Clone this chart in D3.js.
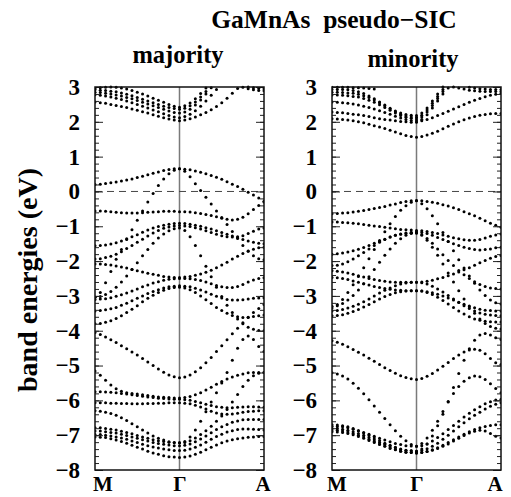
<!DOCTYPE html>
<html>
<head>
<meta charset="utf-8">
<script src="https://cdn.jsdelivr.net/npm/d3@7"></script>
<style>
  body { margin: 0; background: #fff; }
  text { font-family: "Liberation Serif", "Times New Roman", serif; font-weight: bold; fill: #000; }
</style>
</head>
<body>
<svg id="chart" width="511" height="497"></svg>
<script>
// k path M -> Gamma -> A, 33 points (Gamma at index 16)
var kLabels = ["M", "Γ", "A"];
var kLabelPos = [0, 0.5, 1];
var nK = 33;
var yTicks = [-8, -7, -6, -5, -4, -3, -2, -1, 0, 1, 2, 3];

// band energies (eV), null = off the plotted range
var majorityBands = [
  [2.57,2.55,2.53,2.5,2.47,2.44,2.41,2.37,2.33,2.29,2.25,2.2,2.16,2.12,2.08,2.05,2.03, 2.05,2.09,2.14,2.2,2.27,2.35,2.44,2.55,2.68,2.82,2.96,null,null,null,null,null],
  [2.78,2.76,2.74,2.71,2.68,2.64,2.6,2.55,2.5,2.45,2.4,2.34,2.29,2.23,2.18,2.14,2.12, 2.15,2.22,2.32,2.45,2.6,2.76,2.93,null,null,null,null,null,null,null,null,null],
  [2.85,2.84,2.82,2.8,2.77,2.74,2.7,2.66,2.61,2.56,2.51,2.46,2.41,2.36,2.31,2.27,2.25, 2.28,2.36,2.48,2.63,2.8,2.98,null,null,null,null,null,null,null,null,null,null],
  [2.92,2.91,2.9,2.88,2.86,2.83,2.79,2.75,2.7,2.65,2.6,2.55,2.5,2.45,2.41,2.38,2.36, 2.39,2.46,2.57,2.71,2.87,null,null,null,null,null,null,null,null,null,null,null],
  [2.96,2.98,2.99,3.0,2.99,2.97,2.94,2.9,2.85,2.8,2.74,2.68,2.62,2.56,2.5,2.45,2.42, 2.46,2.54,2.66,2.81,2.97,null,null,null,null,null,null,null,null,null,null,null],
  [null,null,null,null,null,null,null,null,null,null,null,null,null,null,null,null,null, null,null,null,null,null,null,null,null,null,null,null,2.99,2.95,2.92,2.9,2.89],
  [null,null,null,null,null,null,null,null,null,null,null,null,null,null,null,null,null, null,null,null,null,null,null,null,null,null,null,null,null,3.0,2.98,2.96,2.95],
  [0.2,0.21,0.23,0.25,0.27,0.3,0.33,0.36,0.4,0.44,0.48,0.52,0.56,0.6,0.63,0.65,0.65, 0.64,0.62,0.59,0.55,0.51,0.46,0.41,0.35,0.28,0.21,0.14,0.06,-0.02,-0.1,-0.19,-0.28],
  [-0.56,-0.56,-0.57,-0.58,-0.6,-0.61,-0.62,-0.62,-0.62,-0.61,-0.6,-0.59,-0.58,-0.57,-0.57,-0.57,-0.58, -0.58,-0.59,-0.61,-0.63,-0.66,-0.69,-0.73,-0.77,-0.8,-0.82,-0.8,-0.74,-0.64,-0.52,-0.4,-0.3],
  [-3.04,-2.9,-2.62,-2.3,-1.95,-1.67,-1.38,-1.1,-0.83,-0.56,-0.3,-0.06,0.17,0.36,0.51,0.61,0.65, 0.58,0.42,0.22,0.03,-0.17,-0.36,-0.56,-0.75,-0.95,-1.15,-1.35,-1.55,-1.72,-1.85,-1.93,-1.96],
  [-1.56,-1.55,-1.54,-1.51,-1.47,-1.42,-1.36,-1.3,-1.24,-1.17,-1.11,-1.05,-1.01,-0.97,-0.94,-0.92,-0.91, -0.92,-0.94,-0.97,-1.0,-1.04,-1.08,-1.13,-1.18,-1.23,-1.28,-1.33,-1.38,-1.42,-1.46,-1.49,-1.5],
  [-1.94,-1.93,-1.9,-1.86,-1.8,-1.73,-1.64,-1.55,-1.46,-1.37,-1.28,-1.19,-1.12,-1.06,-1.02,-0.99,-0.98, -0.99,-1.01,-1.04,-1.08,-1.13,-1.18,-1.23,-1.27,-1.3,-1.31,-1.3,-1.27,-1.21,-1.14,-1.08,-1.05],
  [-3.04,-3.02,-2.96,-2.87,-2.75,-2.6,-2.43,-2.24,-2.05,-1.85,-1.67,-1.49,-1.34,-1.22,-1.13,-1.07,-1.05, -1.12,-1.3,-1.55,-1.85,-2.15,-2.45,-2.75,-3.02,-3.27,-3.48,-3.66,-3.8,-3.9,-3.96,-3.99,-4.0],
  [-2.08,-2.08,-2.1,-2.11,-2.14,-2.17,-2.2,-2.24,-2.28,-2.31,-2.35,-2.38,-2.41,-2.44,-2.46,-2.47,-2.47, -2.46,-2.44,-2.41,-2.37,-2.32,-2.26,-2.19,-2.11,-2.03,-1.94,-1.86,-1.78,-1.71,-1.66,-1.62,-1.6],
  [-3.1,-3.09,-3.08,-3.05,-3.01,-2.97,-2.92,-2.86,-2.8,-2.74,-2.69,-2.63,-2.59,-2.55,-2.52,-2.51,-2.5, -2.5,-2.51,-2.53,-2.56,-2.6,-2.65,-2.7,-2.74,-2.76,-2.76,-2.73,-2.67,-2.6,-2.54,-2.5,-2.48],
  [-3.43,-3.42,-3.4,-3.37,-3.33,-3.27,-3.21,-3.14,-3.07,-3.0,-2.93,-2.87,-2.82,-2.77,-2.74,-2.72,-2.71, -2.72,-2.74,-2.78,-2.83,-2.89,-2.95,-3.01,-3.06,-3.1,-3.12,-3.12,-3.11,-3.09,-3.07,-3.06,-3.05],
  [-3.8,-3.79,-3.76,-3.71,-3.65,-3.57,-3.48,-3.38,-3.28,-3.17,-3.07,-2.98,-2.9,-2.84,-2.79,-2.76,-2.75, -2.77,-2.82,-2.9,-3.0,-3.11,-3.22,-3.33,-3.42,-3.5,-3.56,-3.6,-3.62,-3.61,-3.59,-3.57,-3.55],
  [-4.05,-4.11,-4.18,-4.26,-4.34,-4.43,-4.52,-4.61,-4.7,-4.8,-4.9,-5.0,-5.1,-5.19,-5.27,-5.32,-5.35, -5.33,-5.27,-5.18,-5.06,-4.92,-4.77,-4.6,-4.43,-4.26,-4.09,-3.93,-3.77,-3.62,-3.48,-3.36,-3.25],
  [-5.16,-5.28,-5.42,-5.56,-5.67,-5.74,-5.78,-5.8,-5.82,-5.84,-5.86,-5.88,-5.9,-5.91,-5.92,-5.93,-5.93, -5.92,-5.89,-5.84,-5.78,-5.7,-5.62,-5.54,-5.46,-5.39,-5.33,-5.28,-5.24,-5.21,-5.2,-5.2,-5.2],
  [-5.75,-5.75,-5.76,-5.77,-5.78,-5.8,-5.82,-5.84,-5.86,-5.88,-5.9,-5.92,-5.94,-5.95,-5.96,-5.97,-5.97, -5.98,-6.0,-6.03,-6.07,-6.11,-6.15,-6.18,-6.2,-6.21,-6.21,-6.2,-6.19,-6.18,-6.18,-6.19,-6.2],
  [-6.07,-6.07,-6.07,-6.08,-6.08,-6.09,-6.09,-6.1,-6.1,-6.1,-6.09,-6.09,-6.08,-6.08,-6.07,-6.07,-6.07, -6.08,-6.1,-6.14,-6.19,-6.25,-6.31,-6.36,-6.39,-6.4,-6.39,-6.37,-6.34,-6.32,-6.31,-6.3,-6.3],
  [-6.3,-6.31,-6.34,-6.38,-6.43,-6.5,-6.58,-6.67,-6.76,-6.85,-6.94,-7.02,-7.09,-7.14,-7.19,-7.21,-7.22, -7.18,-7.05,-6.85,-6.6,-6.33,-6.05,-5.78,-5.5,-5.2,-4.85,-4.5,-4.25,-4.15,-4.25,-4.45,-4.6],
  [-6.79,-6.79,-6.81,-6.83,-6.85,-6.89,-6.92,-6.96,-7.01,-7.05,-7.09,-7.13,-7.16,-7.18,-7.2,-7.22,-7.22, -7.21,-7.16,-7.08,-6.98,-6.87,-6.74,-6.6,-6.45,-6.26,-6.05,-5.83,-5.6,-5.42,-5.29,-5.22,-5.2],
  [-6.88,-6.88,-6.9,-6.92,-6.94,-6.97,-7.01,-7.05,-7.09,-7.13,-7.17,-7.21,-7.24,-7.26,-7.28,-7.3,-7.3, -7.29,-7.25,-7.19,-7.11,-7.02,-6.93,-6.84,-6.76,-6.69,-6.63,-6.59,-6.56,-6.55,-6.55,-6.55,-6.55],
  [-6.98,-6.98,-7.0,-7.02,-7.05,-7.08,-7.12,-7.17,-7.21,-7.26,-7.3,-7.34,-7.37,-7.4,-7.42,-7.44,-7.44, -7.43,-7.4,-7.35,-7.28,-7.2,-7.12,-7.04,-6.97,-6.91,-6.87,-6.84,-6.82,-6.82,-6.83,-6.84,-6.85],
  [-7.05,-7.06,-7.07,-7.1,-7.14,-7.18,-7.23,-7.29,-7.35,-7.4,-7.46,-7.51,-7.55,-7.59,-7.62,-7.63,-7.64, -7.63,-7.6,-7.55,-7.49,-7.42,-7.35,-7.28,-7.22,-7.17,-7.13,-7.1,-7.08,-7.06,-7.05,-7.04,-7.04]
];

var minorityBands = [
  [2.09,2.08,2.07,2.05,2.03,2.0,1.97,1.93,1.89,1.85,1.81,1.76,1.71,1.66,1.61,1.58,1.56, 1.58,1.62,1.67,1.73,1.8,1.87,1.94,2.0,2.06,2.11,2.15,2.19,2.21,2.23,2.24,2.24],
  [2.28,2.27,2.26,2.24,2.22,2.2,2.18,2.15,2.12,2.09,2.07,2.05,2.03,2.01,2.0,1.99,1.99, 2.03,2.07,2.12,2.18,2.24,2.3,2.37,2.43,2.5,2.56,2.62,2.67,2.72,2.76,2.79,2.81],
  [2.57,2.56,2.55,2.53,2.51,2.48,2.45,2.41,2.37,2.32,2.27,2.22,2.16,2.11,2.07,2.04,2.03, 2.07,2.2,2.4,2.6,2.8,2.97,null,null,null,null,null,null,null,null,null,null],
  [2.77,2.77,2.76,2.75,2.73,2.71,2.67,2.62,2.56,2.49,2.41,2.33,2.25,2.18,2.13,2.1,2.08, 2.14,2.28,2.47,2.67,2.87,null,null,null,null,null,null,null,null,null,null,null],
  [2.85,2.85,2.84,2.83,2.82,2.79,2.75,2.7,2.63,2.55,2.46,2.37,2.29,2.22,2.17,2.14,2.13, 2.19,2.34,2.53,2.73,2.93,null,null,null,null,null,null,null,null,null,null,null],
  [2.93,2.93,2.93,2.92,2.9,2.86,2.81,2.74,2.66,2.57,2.48,2.39,2.31,2.25,2.21,2.19,2.18, 2.25,2.4,2.6,2.8,3.0,null,null,null,null,null,null,null,null,null,null,null],
  [2.99,2.99,2.99,2.99,2.98,2.98,2.97,2.96,2.94,null,null,null,null,null,null,null,null, null,null,null,null,null,null,null,null,null,null,null,null,null,null,null,null],
  [null,null,null,null,null,null,null,null,null,null,null,null,null,null,null,null,null, null,null,null,null,null,null,null,null,null,2.99,2.97,2.95,2.94,2.93,2.93,2.93],
  [null,null,null,null,null,null,null,null,null,null,null,null,null,null,null,null,null, null,null,null,null,null,null,3.0,2.97,2.94,2.91,2.89,2.88,2.87,2.87,2.87,2.87],
  [-0.64,-0.63,-0.62,-0.61,-0.59,-0.57,-0.55,-0.52,-0.49,-0.46,-0.43,-0.39,-0.36,-0.32,-0.29,-0.27,-0.26, -0.27,-0.29,-0.31,-0.34,-0.38,-0.42,-0.47,-0.52,-0.58,-0.64,-0.7,-0.77,-0.84,-0.91,-0.97,-1.03],
  [-3.35,-3.25,-3.1,-2.9,-2.68,-2.44,-2.19,-1.93,-1.67,-1.41,-1.16,-0.93,-0.72,-0.54,-0.41,-0.31,-0.27, -0.35,-0.5,-0.7,-0.93,-1.18,-1.44,-1.7,-1.96,-2.2,-2.43,-2.64,-2.83,-2.99,-3.12,-3.2,-3.23],
  [-0.88,-0.88,-0.89,-0.9,-0.91,-0.93,-0.95,-0.97,-0.99,-1.01,-1.03,-1.05,-1.07,-1.09,-1.1,-1.11,-1.12, -1.13,-1.15,-1.18,-1.21,-1.25,-1.29,-1.33,-1.36,-1.39,-1.4,-1.4,-1.38,-1.34,-1.29,-1.25,-1.22],
  [-1.8,-1.79,-1.77,-1.74,-1.7,-1.66,-1.61,-1.55,-1.49,-1.43,-1.37,-1.31,-1.26,-1.22,-1.19,-1.17,-1.16, -1.18,-1.21,-1.26,-1.32,-1.38,-1.44,-1.5,-1.55,-1.6,-1.64,-1.67,-1.68,-1.67,-1.65,-1.62,-1.6],
  [-2.13,-2.12,-2.08,-2.02,-1.94,-1.85,-1.75,-1.65,-1.55,-1.46,-1.38,-1.31,-1.26,-1.23,-1.21,-1.2,-1.2, -1.25,-1.35,-1.49,-1.65,-1.82,-1.98,-2.13,-2.27,-2.39,-2.5,-2.59,-2.67,-2.73,-2.77,-2.79,-2.8],
  [-2.28,-2.29,-2.31,-2.34,-2.38,-2.42,-2.46,-2.5,-2.53,-2.56,-2.58,-2.6,-2.61,-2.61,-2.61,-2.61,-2.61, -2.6,-2.58,-2.55,-2.51,-2.47,-2.42,-2.37,-2.31,-2.25,-2.19,-2.12,-2.05,-1.98,-1.92,-1.87,-1.84],
  [-2.47,-2.48,-2.5,-2.53,-2.57,-2.61,-2.65,-2.69,-2.73,-2.76,-2.79,-2.81,-2.83,-2.84,-2.85,-2.85,-2.85, -2.86,-2.88,-2.91,-2.95,-3.0,-3.06,-3.12,-3.18,-3.24,-3.29,-3.34,-3.38,-3.41,-3.42,-3.43,-3.43],
  [-3.43,-3.42,-3.39,-3.35,-3.3,-3.24,-3.17,-3.09,-3.0,-2.92,-2.84,-2.77,-2.71,-2.66,-2.63,-2.61,-2.61, -2.62,-2.66,-2.72,-2.8,-2.89,-2.99,-3.09,-3.19,-3.28,-3.36,-3.43,-3.49,-3.53,-3.55,-3.56,-3.57],
  [-3.57,-3.56,-3.54,-3.5,-3.45,-3.39,-3.32,-3.25,-3.17,-3.09,-3.02,-2.96,-2.91,-2.88,-2.86,-2.85,-2.85, -2.86,-2.9,-2.96,-3.04,-3.13,-3.23,-3.33,-3.43,-3.52,-3.6,-3.66,-3.7,-3.73,-3.74,-3.75,-3.75],
  [-3.3,-3.28,-3.22,-3.12,-2.99,-2.83,-2.65,-2.45,-2.24,-2.03,-1.83,-1.65,-1.49,-1.36,-1.26,-1.2,-1.18, -1.25,-1.4,-1.6,-1.83,-2.08,-2.34,-2.6,-2.85,-3.09,-3.31,-3.5,-3.66,-3.79,-3.88,-3.93,-3.95],
  [-4.29,-4.33,-4.39,-4.46,-4.54,-4.62,-4.7,-4.79,-4.88,-4.97,-5.06,-5.14,-5.22,-5.29,-5.34,-5.38,-5.4, -5.37,-5.31,-5.23,-5.13,-5.02,-4.91,-4.8,-4.7,-4.61,-4.55,-4.53,-4.56,-4.66,-4.8,-4.92,-4.97],
  [-5.21,-5.24,-5.3,-5.39,-5.51,-5.65,-5.81,-5.98,-6.16,-6.34,-6.52,-6.7,-6.87,-7.03,-7.16,-7.27,-7.32, -7.24,-7.08,-6.86,-6.6,-6.32,-6.05,-5.8,-5.6,-5.45,-5.35,-5.3,-5.32,-5.4,-5.52,-5.66,-5.78],
  [-6.7,-6.71,-6.73,-6.76,-6.81,-6.87,-6.94,-7.01,-7.08,-7.15,-7.23,-7.29,-7.35,-7.4,-7.43,-7.45,-7.46, -7.4,-7.25,-7.02,-6.73,-6.4,-6.03,-5.63,-5.23,-4.85,-4.52,-4.27,-4.12,-4.08,-4.12,-4.2,-4.25],
  [-6.74,-6.75,-6.76,-6.79,-6.83,-6.87,-6.92,-6.97,-7.03,-7.09,-7.14,-7.19,-7.24,-7.27,-7.3,-7.31,-7.32, -7.3,-7.25,-7.17,-7.07,-6.96,-6.84,-6.72,-6.6,-6.48,-6.37,-6.27,-6.18,-6.1,-6.04,-5.99,-5.97],
  [-6.8,-6.81,-6.83,-6.86,-6.9,-6.95,-7.0,-7.07,-7.13,-7.2,-7.26,-7.31,-7.36,-7.41,-7.44,-7.45,-7.46, -7.44,-7.39,-7.32,-7.23,-7.12,-7.0,-6.88,-6.76,-6.64,-6.53,-6.43,-6.34,-6.25,-6.17,-6.11,-6.07],
  [-6.85,-6.86,-6.88,-6.91,-6.95,-7.0,-7.05,-7.12,-7.18,-7.25,-7.31,-7.36,-7.41,-7.46,-7.49,-7.5,-7.51, -7.5,-7.47,-7.42,-7.36,-7.29,-7.21,-7.13,-7.05,-6.97,-6.9,-6.84,-6.79,-6.75,-6.72,-6.7,-6.7],
  [-6.9,-6.91,-6.92,-6.95,-6.99,-7.04,-7.09,-7.15,-7.21,-7.27,-7.32,-7.38,-7.42,-7.46,-7.49,-7.5,-7.51, -7.5,-7.47,-7.43,-7.38,-7.32,-7.25,-7.17,-7.09,-7.01,-6.94,-6.89,-6.86,-6.88,-6.95,-7.03,-7.08]
];

var svg = d3.select("#chart");

var yScale = d3.scaleLinear().domain([-8, 3]).range([470, 87]);
var minorTicks = d3.range(-80, 31, 2).map(function (d) { return d / 10; });

var panels = [
  { name: "majority", x0: 95, x1: 264, bands: majorityBands, labelX: 178, labelY: 63, kPos: [103, 180, 263] },
  { name: "minority", x0: 332, x1: 501, bands: minorityBands, labelX: 413, labelY: 67, kPos: [337, 417, 495] }
];

function fmt(d) { return d < 0 ? "\u2212" + (-d) : "" + d; }

panels.forEach(function (p, pi) {
    var xScale = d3.scaleLinear().domain([0, 1]).range([p.x0, p.x1]);
    var g = svg.append("g");

    var clipId = "clip" + pi;
    svg.append("clipPath").attr("id", clipId)
        .append("rect")
        .attr("x", p.x0).attr("y", yScale(3) - 2)
        .attr("width", p.x1 - p.x0).attr("height", yScale(-8) - yScale(3) + 4);

    // Gamma line
    g.append("line")
        .attr("x1", xScale(0.5)).attr("x2", xScale(0.5))
        .attr("y1", yScale(3)).attr("y2", yScale(-8))
        .style("stroke", "#7a7a7a")
        .style("stroke-width", 1.5);

    // Fermi level
    g.append("line")
        .attr("x1", p.x0).attr("x2", p.x1)
        .attr("y1", yScale(0)).attr("y2", yScale(0))
        .style("stroke", "#444")
        .style("stroke-width", 1)
        .style("stroke-dasharray", "7,5");

    // band dots
    var pts = [];
    p.bands.forEach(function (band) {
        band.forEach(function (e, i) {
            if (e !== null && e <= 3.02 && e >= -8) pts.push({ k: i / (nK - 1), e: e });
        });
    });
    g.append("g").attr("clip-path", "url(#" + clipId + ")")
        .selectAll("circle")
        .data(pts)
        .enter().append("circle")
        .attr("cx", function (d) { return xScale(d.k); })
        .attr("cy", function (d) { return yScale(d.e); })
        .attr("r", 1.5)
        .style("fill", "#000");

    // inward ticks on both sides
    var minorL = d3.axisLeft(yScale).tickValues(minorTicks).tickSize(-4).tickFormat("");
    var majorL = d3.axisLeft(yScale).tickValues(yTicks).tickSize(-8).tickFormat("");
    var minorR = d3.axisRight(yScale).tickValues(minorTicks).tickSize(-4).tickFormat("");
    var majorR = d3.axisRight(yScale).tickValues(yTicks).tickSize(-8).tickFormat("");
    [[minorL, p.x0], [majorL, p.x0], [minorR, p.x1], [majorR, p.x1]].forEach(function (a) {
        var ax = g.append("g").attr("transform", "translate(" + a[1] + ",0)").call(a[0]);
        ax.select(".domain").remove();
        ax.selectAll("line").style("stroke", "#222").style("stroke-width", 1);
    });

    // tick labels
    var lab = g.append("g").attr("transform", "translate(" + p.x0 + ",0)")
        .call(d3.axisLeft(yScale).tickValues(yTicks).tickSize(0).tickPadding(15).tickFormat(fmt));
    lab.select(".domain").remove();
    lab.selectAll("text")
        .style("font-family", "'Liberation Serif', 'Times New Roman', serif")
        .style("font-weight", "bold")
        .style("font-size", "23px")
        .style("fill", "#000");

    // frame
    g.append("rect")
        .attr("x", p.x0).attr("y", yScale(3))
        .attr("width", p.x1 - p.x0).attr("height", yScale(-8) - yScale(3))
        .style("fill", "none")
        .style("stroke", "#111")
        .style("stroke-width", 1.5);

    // k labels
    g.selectAll(".klab")
        .data(kLabels)
        .enter().append("text")
        .attr("x", function (d, i) { return p.kPos[i]; })
        .attr("y", 491)
        .attr("text-anchor", "middle")
        .style("font-size", "21px")
        .text(function (d) { return d; });

    // panel label
    g.append("text")
        .attr("x", p.labelX).attr("y", p.labelY)
        .attr("text-anchor", "middle")
        .style("font-size", "24.5px")
        .text(p.name);
});

svg.append("text")
    .attr("x", 334).attr("y", 28)
    .attr("text-anchor", "middle")
    .style("font-size", "25.5px")
    .style("white-space", "pre")
    .text("GaMnAs  pseudo\u2212SIC");

svg.append("text")
    .attr("transform", "translate(37,280) rotate(-90)")
    .attr("text-anchor", "middle")
    .style("font-size", "28px")
    .text("band energies (eV)");
</script>
</body>
</html>
